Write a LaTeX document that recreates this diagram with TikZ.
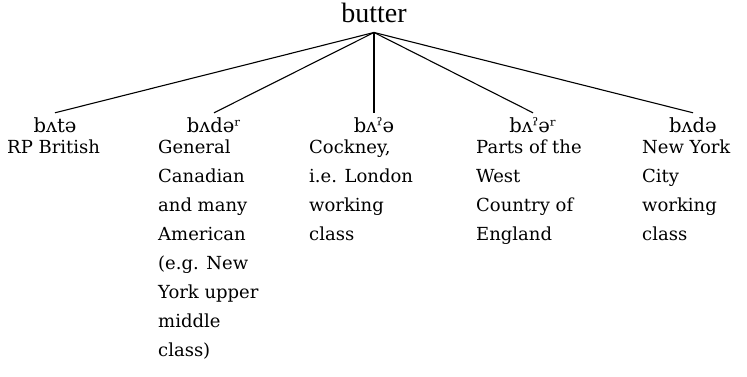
\documentclass[tikz,border=0pt]{standalone}
\usepackage{fontspec}
\setmainfont{DejaVu Serif}
\newfontfamily\rootfont{Liberation Serif}
\tikzset{
  rootnode/.style={font=\rootfont\fontsize{28}{28}\selectfont, inner xsep=0pt, inner ysep=9pt, anchor=base},
  ipa/.style={font=\fontsize{19.5}{22}\selectfont, text height=14pt, text depth=0pt, inner xsep=0pt, inner ysep=5pt, anchor=base},
  desc/.style={font=\fontsize{18}{29}\selectfont, align=left, inner sep=0pt, anchor=north west},
  branch/.style={line width=1.1pt}
}
\begin{document}
\begin{tikzpicture}[x=1pt,y=-1pt]
\useasboundingbox (0,0) rectangle (747,377);
\node[rootnode] (root) at (374,23) {butter};
\node[ipa] (l1) at (55,132) {bʌtə};
\node[ipa] (l2) at (214,132) {bʌdəʳ};
\node[ipa] (l3) at (374,132) {bʌˀə};
\node[ipa] (l4) at (533,132) {bʌˀəʳ};
\node[ipa] (l5) at (693,132) {bʌdə};
\foreach \i in {1,...,5} \draw[branch] (root.south) -- (l\i.north);
\node[desc] (d1) at (7,140) {RP British};
\node[desc] (d2) at (158,140) {General\\Canadian\\and many\\American\\(e.g. New\\York upper\\middle\\class)};
\node[desc] (d3) at (309,140) {Cockney,\\i.e. London\\working\\class};
\node[desc] (d4) at (476,140) {Parts of the\\West\\Country of\\England};
\node[desc] (d5) at (642,140) {New York\\City\\working\\class};
\end{tikzpicture}
\end{document}
